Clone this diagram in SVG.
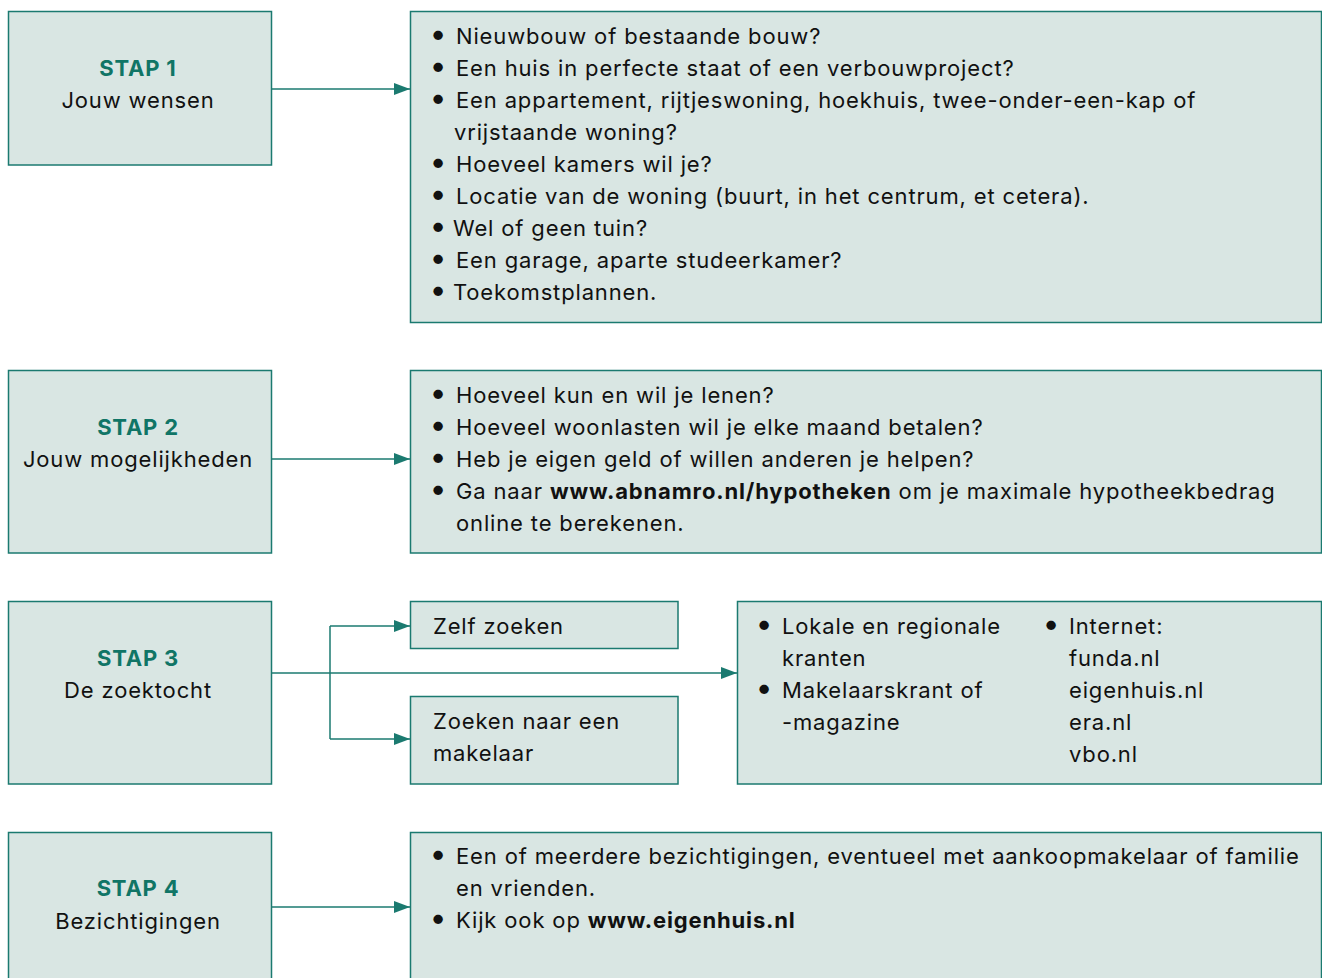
<svg xmlns="http://www.w3.org/2000/svg" width="1322" height="978" viewBox="0 0 1322 978">
<defs>
<style>
.box{fill:#d9e6e3;stroke:#1b7a70;stroke-width:1.5}
.t{font-family:Inter,"Liberation Sans",Arial,sans-serif;font-size:22px;letter-spacing:0.85px;fill:#111}
.h{font-family:Inter,"Liberation Sans",Arial,sans-serif;font-size:22px;letter-spacing:0.8px;font-weight:bold;fill:#107566}
.c{text-anchor:middle}
.b{font-weight:bold}
.u{font-size:30px;font-weight:bold}
.con{fill:none;stroke:#1b7a70;stroke-width:1.5}
</style>
<marker id="ah" markerWidth="16" markerHeight="12" refX="16" refY="6" orient="auto" markerUnits="userSpaceOnUse">
<path d="M0,0 L16,6 L0,12 Z" fill="#1b7a70"/>
</marker>
</defs>
<rect width="1322" height="978" fill="#fff"/>
<g id="connectors">
<path class="con" d="M271,89 H410" marker-end="url(#ah)"/>
<path class="con" d="M271,459 H410" marker-end="url(#ah)"/>
<path class="con" d="M271,673 H737" marker-end="url(#ah)"/>
<path class="con" d="M330,626 V739"/>
<path class="con" d="M330,626 H410" marker-end="url(#ah)"/>
<path class="con" d="M330,739 H410" marker-end="url(#ah)"/>
<path class="con" d="M271,907 H410" marker-end="url(#ah)"/>
</g>
<g id="stap1">
<rect class="box" x="8.5" y="11.5" width="263" height="153.5"/>
<text class="h c" x="138" y="76">STAP 1</text>
<text class="t c" x="138" y="108">Jouw wensen</text>
</g>
<g id="wensen">
<rect class="box" x="410.5" y="11.5" width="911" height="311"/>
<text class="t" x="431" y="44"><tspan class="u">•</tspan><tspan x="456">Nieuwbouw of bestaande bouw?</tspan></text>
<text class="t" x="431" y="76"><tspan class="u">•</tspan><tspan x="456">Een huis in perfecte staat of een verbouwproject?</tspan></text>
<text class="t" x="431" y="108"><tspan class="u">•</tspan><tspan x="456">Een appartement, rijtjeswoning, hoekhuis, twee-onder-een-kap of</tspan></text>
<text class="t" x="454" y="140">vrijstaande woning?</text>
<text class="t" x="431" y="172"><tspan class="u">•</tspan><tspan x="456">Hoeveel kamers wil je?</tspan></text>
<text class="t" x="431" y="204"><tspan class="u">•</tspan><tspan x="456">Locatie van de woning (buurt, in het centrum, et cetera).</tspan></text>
<text class="t" x="431" y="236"><tspan class="u">•</tspan><tspan x="453">Wel of geen tuin?</tspan></text>
<text class="t" x="431" y="268"><tspan class="u">•</tspan><tspan x="456">Een garage, aparte studeerkamer?</tspan></text>
<text class="t" x="431" y="300"><tspan class="u">•</tspan><tspan x="453">Toekomstplannen.</tspan></text>
</g>
<g id="stap2">
<rect class="box" x="8.5" y="370.5" width="263" height="182.5"/>
<text class="h c" x="138" y="435">STAP 2</text>
<text class="t c" x="138" y="467">Jouw mogelijkheden</text>
</g>
<g id="mogelijkheden">
<rect class="box" x="410.5" y="370.5" width="911" height="182.5"/>
<text class="t" x="431" y="403"><tspan class="u">•</tspan><tspan x="456">Hoeveel kun en wil je lenen?</tspan></text>
<text class="t" x="431" y="435"><tspan class="u">•</tspan><tspan x="456">Hoeveel woonlasten wil je elke maand betalen?</tspan></text>
<text class="t" x="431" y="467"><tspan class="u">•</tspan><tspan x="456">Heb je eigen geld of willen anderen je helpen?</tspan></text>
<text class="t" x="431" y="499"><tspan class="u">•</tspan><tspan x="456">Ga naar </tspan><tspan class="b">www.abnamro.nl/hypotheken</tspan> om je maximale hypotheekbedrag</text>
<text class="t" x="456" y="531">online te berekenen.</text>
</g>
<g id="stap3">
<rect class="box" x="8.5" y="601.5" width="263" height="182.5"/>
<text class="h c" x="138" y="666">STAP 3</text>
<text class="t c" x="138" y="698">De zoektocht</text>
</g>
<g id="zelf">
<rect class="box" x="410.5" y="601.5" width="267.5" height="47"/>
<text class="t" x="433" y="634">Zelf zoeken</text>
</g>
<g id="makelaar">
<rect class="box" x="410.5" y="696.5" width="267.5" height="87.5"/>
<text class="t" x="433" y="729">Zoeken naar een</text>
<text class="t" x="433" y="761">makelaar</text>
</g>
<g id="bronnen">
<rect class="box" x="737.5" y="601.5" width="584" height="182.5"/>
<text class="t" x="757" y="634"><tspan class="u">•</tspan><tspan x="782">Lokale en regionale</tspan></text>
<text class="t" x="782" y="666">kranten</text>
<text class="t" x="757" y="698"><tspan class="u">•</tspan><tspan x="782">Makelaarskrant of</tspan></text>
<text class="t" x="782" y="730">-magazine</text>
<text class="t" x="1044" y="634"><tspan class="u">•</tspan><tspan x="1069">Internet:</tspan></text>
<text class="t" x="1069" y="666">funda.nl</text>
<text class="t" x="1069" y="698">eigenhuis.nl</text>
<text class="t" x="1069" y="730">era.nl</text>
<text class="t" x="1069" y="762">vbo.nl</text>
</g>
<g id="stap4">
<rect class="box" x="8.5" y="832.5" width="263" height="160"/>
<text class="h c" x="138" y="896">STAP 4</text>
<text class="t c" x="138" y="929">Bezichtigingen</text>
</g>
<g id="bezichtigingen">
<rect class="box" x="410.5" y="832.5" width="911" height="160"/>
<text class="t" x="431" y="864"><tspan class="u">•</tspan><tspan x="456">Een of meerdere bezichtigingen, eventueel met aankoopmakelaar of familie</tspan></text>
<text class="t" x="456" y="896">en vrienden.</text>
<text class="t" x="431" y="928"><tspan class="u">•</tspan><tspan x="456">Kijk ook op </tspan><tspan class="b">www.eigenhuis.nl</tspan></text>
</g>
</svg>
